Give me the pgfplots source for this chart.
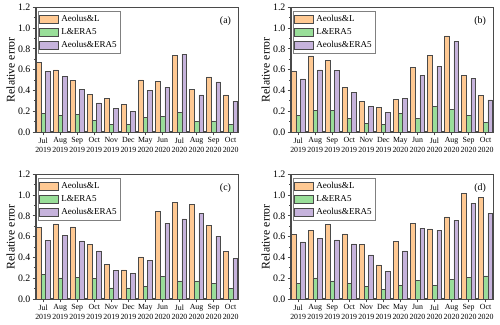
\documentclass[border=0pt]{standalone}
\usepackage{pgfplots}
\pgfplotsset{compat=1.18}
\usepackage{pgfplotstable}
\usepackage{fontspec}
\setmainfont{Liberation Serif}

\definecolor{cAL}{HTML}{FFC993}
\definecolor{cLE}{HTML}{99DE99}
\definecolor{cAE}{HTML}{C6B3DC}
\definecolor{edge}{HTML}{4A4A4A}

% x al le ae
\pgfplotstableread{
x al le ae
0 0.672 0.180 0.586
1 0.598 0.160 0.538
2 0.500 0.173 0.410
3 0.365 0.112 0.280
4 0.323 0.074 0.230
5 0.266 0.074 0.200
6 0.502 0.144 0.400
7 0.490 0.154 0.432
8 0.736 0.192 0.749
9 0.410 0.100 0.358
10 0.530 0.106 0.483
11 0.358 0.077 0.298
}\dataA
\pgfplotstableread{
x al le ae
0 0.589 0.163 0.512
1 0.733 0.208 0.598
2 0.688 0.208 0.592
3 0.432 0.134 0.380
4 0.294 0.086 0.250
5 0.240 0.074 0.192
6 0.317 0.182 0.326
7 0.620 0.134 0.544
8 0.739 0.250 0.634
9 0.925 0.220 0.870
10 0.544 0.163 0.515
11 0.355 0.096 0.310
}\dataB
\pgfplotstableread{
x al le ae
0 0.692 0.238 0.563
1 0.724 0.203 0.615
2 0.695 0.209 0.560
3 0.528 0.200 0.463
4 0.331 0.106 0.273
5 0.280 0.106 0.248
6 0.405 0.122 0.370
7 0.846 0.219 0.730
8 0.927 0.174 0.772
9 0.910 0.174 0.824
10 0.708 0.151 0.605
11 0.460 0.103 0.389
}\dataC
\pgfplotstableread{
x al le ae
0 0.621 0.151 0.550
1 0.663 0.203 0.582
2 0.717 0.174 0.569
3 0.627 0.154 0.531
4 0.524 0.122 0.425
5 0.328 0.090 0.264
6 0.557 0.132 0.463
7 0.730 0.180 0.682
8 0.676 0.129 0.663
9 0.790 0.190 0.760
10 1.017 0.209 0.923
11 0.975 0.222 0.824
}\dataD

\pgfplotsset{
  panel/.style={
    anchor=south west, scale only axis,
    width=152pt, height=93.5pt,
    ybar=0pt, bar width=0.27,
    xmin=-0.42, xmax=11.47, ymin=0, ymax=1.2,
    ytick={0,0.2,...,1.2}, minor y tick num=1,
    yticklabel style={font=\fontsize{7.4}{8}\selectfont, inner sep=1.5pt,
      /pgf/number format/fixed, /pgf/number format/fixed zerofill,
      /pgf/number format/precision=1},
    xtick=data,
    xticklabels={{Jul\\2019},{Aug\\2019},{Sep\\2019},{Oct\\2019},{Nov\\2019},{Dec\\2019},
                 {May\\2020},{Jun\\2020},{Jul\\2020},{Aug\\2020},{Sep\\2020},{Oct\\2020}},
    xticklabel style={align=center, font=\fontsize{5.9}{7.2}\selectfont, inner sep=1.5pt},
    /pgf/number format/assume math mode=true,
    tick pos=left, tick align=outside,
    major tick length=2.5pt, minor tick length=1.5pt,
    axis line style={edge, line width=0.8pt},
    tick style={edge, line width=0.6pt},
    ylabel={Relative error},
    ylabel style={at={(axis description cs:-0.125,0.5)}, anchor=center, font=\fontsize{8.8}{9}\selectfont},
    legend cell align=left,
    legend image code/.code={\draw[##1, line width=0.4pt] (0pt,-2.7pt) rectangle (14pt,3.1pt);},
    legend style={at={(axis description cs:0.01,0.97)}, anchor=north west,
      draw=black!50, line width=0.5pt, inner sep=0.8pt, row sep=-0.3pt,
      font=\fontsize{6.8}{7.2}\selectfont},
  },
  bars/.style={draw=edge, line width=0.4pt},
}

\newcommand{\panel}[2]{%
  \addplot[bars, fill=cAL] table[x=x, y=al] {#1};
  \addplot[bars, fill=cLE] table[x=x, y=le] {#1};
  \addplot[bars, fill=cAE] table[x=x, y=ae] {#1};
  \legend{Aeolus\&L, L\&ERA5, Aeolus\&ERA5}
  \node[anchor=north east, font=\fontsize{7.4}{8}\selectfont] at (axis description cs:0.985,0.965) {(#2)};
}

\begin{document}
\begin{tikzpicture}
\path[use as bounding box] (0,0) rectangle (375pt,243.75pt);
\begin{axis}[panel, at={(27pt,144.75pt)}]
\panel{\dataA}{a}
\end{axis}
\begin{axis}[panel, at={(218.25pt,144.75pt)}]
\panel{\dataB}{b}
\end{axis}
\begin{axis}[panel, at={(27pt,19.5pt)}]
\panel{\dataC}{c}
\end{axis}
\begin{axis}[panel, at={(218.25pt,19.5pt)}]
\panel{\dataD}{d}
\end{axis}
\end{tikzpicture}
\end{document}
